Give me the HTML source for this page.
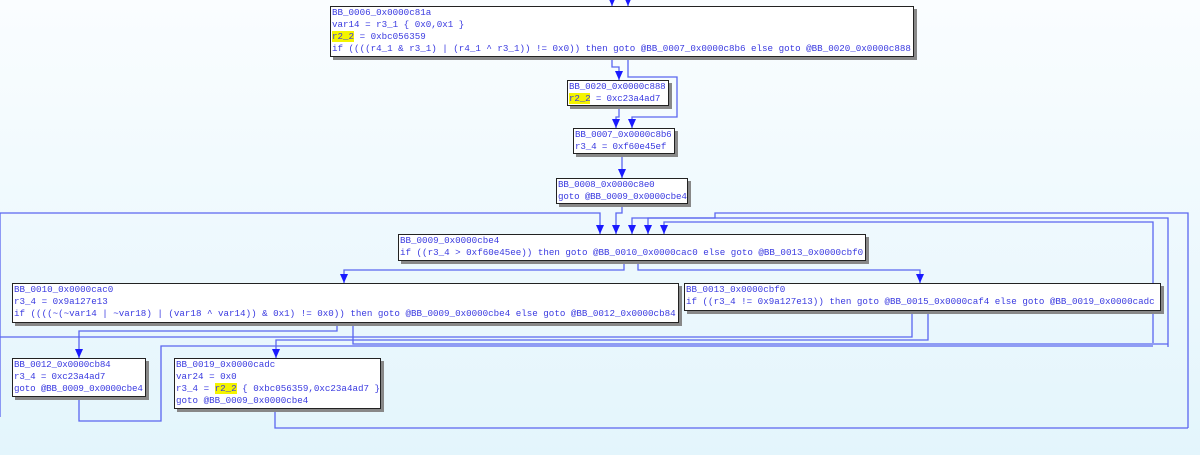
<!DOCTYPE html>
<html><head><meta charset="utf-8"><style>
body{margin:0;width:1200px;height:455px;overflow:hidden;background:linear-gradient(#fafdff,#e3f5fc);position:relative;font-family:"Liberation Mono",monospace;}
.b{position:absolute;background:#fff;border:1px solid #222;box-shadow:3px 3px 0 #888;font-size:9.2px;line-height:12px;color:#3a3ae0;padding:0 1px;white-space:pre;box-sizing:border-box;overflow:hidden}
.s{letter-spacing:-0.15px}
.h{background:#f4f400}
svg{position:absolute;left:0;top:0}
</style></head><body>
<svg width="1200" height="455">
<defs><marker id="a" markerWidth="10" markerHeight="10" refX="4" refY="9" orient="0" markerUnits="userSpaceOnUse"><path d="M0,0 L8,0 L4,9z" fill="#1a1aff"/></marker></defs>
<g fill="none" stroke="#5a66f0" stroke-width="1.3">
<path d="M612,-5 V6" marker-end="url(#a)"/>
<path d="M628,-5 V6" marker-end="url(#a)"/>
<path d="M612,56 V67 H619 V80" marker-end="url(#a)"/>
<path d="M628,56 V77 H677 V117 H632 V128" marker-end="url(#a)"/>
<path d="M619,105 V117 H616 V128" marker-end="url(#a)"/>
<path d="M622,153 V178" marker-end="url(#a)"/>
<path d="M622,203 V213 H616 V234" marker-end="url(#a)"/>
<path d="M0,417 V213 H600 V234" marker-end="url(#a)"/>
<path d="M1188,428 V213 H715 V218 H632 V234" marker-end="url(#a)"/>
<path d="M1168,347 V218 H648 V234" marker-end="url(#a)"/>
<path d="M1153,343 V222 H664 V234" marker-end="url(#a)"/>
<path d="M624,260 V270 H344 V283" marker-end="url(#a)"/>
<path d="M638,260 V270 H920 V283" marker-end="url(#a)"/>
<path d="M337,322 V331 H79 V358" marker-end="url(#a)"/>
<path d="M353,322 V344 H1168"/>
<path d="M912,310 V337 H0"/>
<path d="M928,310 V340 H276 V358" marker-end="url(#a)"/>
<path d="M79,396 V421 H161 V346 H1153"/>
<path d="M275,408 V428 H1188"/>
</g></svg>
<div class="b" style="left:330px;top:6px;width:584px;height:51px">BB_0006_0x0000c81a
var14 = r3_1 { 0x0,0x1 }
<span class="h">r2_2</span> = 0xbc056359
if ((((r4_1 &amp; r3_1) | (r4_1 ^ r3_1)) != 0x0)) then goto @BB_0007_0x0000c8b6 else goto @BB_0020_0x0000c888</div>
<div class="b s" style="left:567px;top:80px;width:102px;height:26px">BB_0020_0x0000c888
<span class="h">r2_2</span> = 0xc23a4ad7</div>
<div class="b s" style="left:573px;top:128px;width:102px;height:26px">BB_0007_0x0000c8b6
r3_4 = 0xf60e45ef</div>
<div class="b s" style="left:556px;top:178px;width:132px;height:26px">BB_0008_0x0000c8e0
goto @BB_0009_0x0000cbe4</div>
<div class="b" style="left:398px;top:234px;width:468px;height:27px">BB_0009_0x0000cbe4
if ((r3_4 &gt; 0xf60e45ee)) then goto @BB_0010_0x0000cac0 else goto @BB_0013_0x0000cbf0</div>
<div class="b" style="left:12px;top:283px;width:667px;height:40px">BB_0010_0x0000cac0
r3_4 = 0x9a127e13
if ((((~(~var14 | ~var18) | (var18 ^ var14)) &amp; 0x1) != 0x0)) then goto @BB_0009_0x0000cbe4 else goto @BB_0012_0x0000cb84</div>
<div class="b" style="left:684px;top:283px;width:477px;height:28px">BB_0013_0x0000cbf0
if ((r3_4 != 0x9a127e13)) then goto @BB_0015_0x0000caf4 else goto @BB_0019_0x0000cadc</div>
<div class="b s" style="left:12px;top:358px;width:134px;height:39px">BB_0012_0x0000cb84
r3_4 = 0xc23a4ad7
goto @BB_0009_0x0000cbe4</div>
<div class="b" style="left:174px;top:358px;width:207px;height:51px">BB_0019_0x0000cadc
var24 = 0x0
r3_4 = <span class="h">r2_2</span> { 0xbc056359,0xc23a4ad7 }
goto @BB_0009_0x0000cbe4</div>
</body></html>
